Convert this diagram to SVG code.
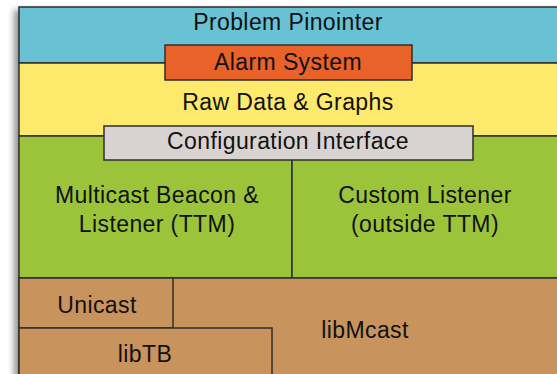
<svg xmlns="http://www.w3.org/2000/svg" width="557" height="374" viewBox="0 0 557 374">
<defs>
<style>
.b{stroke:#2e2e2e;stroke-width:1.5}
.t{font-family:"Liberation Sans",Arial,sans-serif;font-size:23px;letter-spacing:0.4px;fill:#111;text-anchor:middle}
</style>
<filter id="sh" x="-10%" y="-10%" width="120%" height="120%"><feGaussianBlur stdDeviation="3"/></filter>
</defs>
<rect width="557" height="374" fill="#fff"/>
<rect x="14" y="10" width="560" height="380" fill="#666" opacity="0.7" filter="url(#sh)"/>
<g id="problem-pinointer">
<rect class="b" x="19" y="7" width="545" height="56" fill="#68c2d4"/>
<text class="t" x="288" y="30">Problem Pinointer</text>
</g>
<g id="raw-data">
<rect class="b" x="19" y="63" width="545" height="73" fill="#fde96b"/>
<text class="t" x="288" y="110">Raw Data &amp; Graphs</text>
</g>
<g id="alarm-system">
<rect class="b" x="165" y="45" width="247" height="35" fill="#e8622a"/>
<text class="t" x="288" y="70">Alarm System</text>
</g>
<g id="multicast-beacon">
<rect class="b" x="19" y="136" width="273" height="142" fill="#9cc43a"/>
<text class="t" x="157" y="203">Multicast Beacon &amp;</text>
<text class="t" x="157" y="232">Listener (TTM)</text>
</g>
<g id="custom-listener">
<rect class="b" x="292" y="136" width="272" height="142" fill="#9cc43a"/>
<text class="t" x="425" y="203">Custom Listener</text>
<text class="t" x="425" y="232">(outside TTM)</text>
</g>
<rect x="20" y="137" width="543" height="22" fill="#9cc43a"/>
<g id="configuration-interface">
<rect class="b" x="104" y="126" width="369" height="34" fill="#d8d3d0"/>
<text class="t" x="288" y="149">Configuration Interface</text>
</g>
<g id="libmcast">
<rect class="b" x="19" y="278" width="545" height="110" fill="#c9935e"/>
<text class="t" x="365" y="338">libMcast</text>
</g>
<g id="unicast">
<rect class="b" x="19" y="278" width="154" height="50" fill="#c9935e"/>
<text class="t" x="97" y="313">Unicast</text>
</g>
<g id="libtb">
<rect class="b" x="19" y="328" width="253" height="60" fill="#c9935e"/>
<text class="t" x="145" y="362">libTB</text>
</g>
<g id="connectors"/>
</svg>
